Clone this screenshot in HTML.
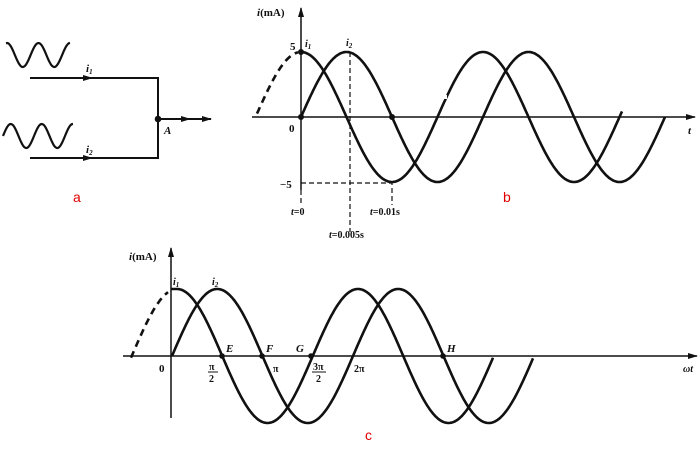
<!DOCTYPE html>
<html><head><meta charset="utf-8"><style>
body{margin:0;background:#fff;width:700px;height:455px;overflow:hidden}
svg{display:block}
text{font-family:"Liberation Serif",serif;font-weight:bold;fill:#111}
</style></head><body>
<svg id="s" width="700" height="455" viewBox="0 0 700 455" fill="none" stroke="#111">
<defs><marker id="ar" markerWidth="10" markerHeight="8" refX="9" refY="4" orient="auto" markerUnits="userSpaceOnUse"><path d="M0,1 L10,4 L0,7 Z" fill="#111" stroke="none"/></marker></defs>
<!-- a -->
<path id="w1" stroke-width="2.2"/><path id="w2" stroke-width="2.2"/>
<path d="M30,78 H158 V158 H30" stroke-width="2"/>
<path d="M30,78 H92" stroke-width="2" marker-end="url(#ar)"/>
<path d="M30,158 H92" stroke-width="2" marker-end="url(#ar)"/>
<path d="M158,119 H211" stroke-width="2" marker-end="url(#ar)"/>
<path d="M158,119 H190" stroke-width="2" marker-end="url(#ar)"/>
<circle cx="158" cy="119" r="2.8" fill="#111"/>
<text x="86" y="72" font-size="11" font-style="italic" stroke="none">i<tspan font-size="7" dy="2">1</tspan></text>
<text x="86" y="153" font-size="11" font-style="italic" stroke="none">i<tspan font-size="7" dy="2">2</tspan></text>
<text x="164" y="134" font-size="11" font-style="italic" stroke="none">A</text>
<text x="73" y="202" stroke="none" style="fill:#e00000;font-family:'Liberation Sans',sans-serif;font-weight:normal;font-size:14px">a</text>
<!-- b -->
<path d="M252,117 H695" stroke-width="1.5" marker-end="url(#ar)"/>
<path d="M301,190 V8" stroke-width="1.5" marker-end="url(#ar)"/>
<path d="M301,183 H392 V205 M350,52 V232 M301,190 V205" stroke-width="1.2" stroke-dasharray="5,3"/>
<path id="b1" stroke-width="2.6"/><path id="b2" stroke-width="2.6"/><path id="bd" stroke-width="2.6" stroke-dasharray="7,5"/>
<rect x="440" y="95" width="7" height="4" fill="#fff" stroke="none"/>
<circle cx="301" cy="52" r="2.5" fill="#111"/><circle cx="301" cy="117" r="2.5" fill="#111"/><circle cx="392" cy="117" r="2.5" fill="#111"/>
<text x="257" y="16" font-size="11" stroke="none"><tspan font-style="italic">i</tspan>(mA)</text>
<text x="290" y="50" font-size="11" stroke="none">5</text>
<text x="305" y="47" font-size="10" font-style="italic" stroke="none">i<tspan font-size="7" dy="2">1</tspan></text>
<text x="346" y="46" font-size="10" font-style="italic" stroke="none">i<tspan font-size="7" dy="2">2</tspan></text>
<text x="289" y="132" font-size="11" stroke="none">0</text>
<text x="280" y="188" font-size="11" stroke="none">−5</text>
<text x="688" y="134" font-size="11" font-style="italic" stroke="none">t</text>
<text x="291" y="215" font-size="10" stroke="none"><tspan font-style="italic">t</tspan>=0</text>
<text x="370" y="215" font-size="10" stroke="none"><tspan font-style="italic">t</tspan>=0.01s</text>
<text x="329" y="238" font-size="10" stroke="none"><tspan font-style="italic">t</tspan>=0.005s</text>
<text x="503" y="202" stroke="none" style="fill:#e00000;font-family:'Liberation Sans',sans-serif;font-weight:normal;font-size:14px">b</text>
<!-- c -->
<path d="M123,356 H697" stroke-width="1.5" marker-end="url(#ar)"/>
<path d="M171,418 V248" stroke-width="1.5" marker-end="url(#ar)"/>
<path id="c1" stroke-width="2.6"/><path id="c2" stroke-width="2.6"/><path id="cd" stroke-width="2.6" stroke-dasharray="7,5"/>
<circle cx="222" cy="356" r="2.3" fill="#111"/><circle cx="262" cy="356" r="2.3" fill="#111"/><circle cx="311" cy="356" r="2.3" fill="#111"/><circle cx="443" cy="356" r="2.3" fill="#111"/>
<text x="129" y="260" font-size="11" stroke="none"><tspan font-style="italic">i</tspan>(mA)</text>
<text x="173" y="285" font-size="10" font-style="italic" stroke="none">i<tspan font-size="7" dy="2">1</tspan></text>
<text x="212" y="285" font-size="10" font-style="italic" stroke="none">i<tspan font-size="7" dy="2">2</tspan></text>
<text x="159" y="372" font-size="11" stroke="none">0</text>
<text x="226" y="352" font-size="11" font-style="italic" stroke="none">E</text>
<text x="266" y="352" font-size="11" font-style="italic" stroke="none">F</text>
<text x="296" y="352" font-size="11" font-style="italic" stroke="none">G</text>
<text x="447" y="352" font-size="11" font-style="italic" stroke="none">H</text>
<text x="209" y="370" font-size="10" stroke="none">π</text><path d="M208,372 H218" stroke-width="1"/><text x="209" y="382" font-size="10" stroke="none">2</text>
<text x="273" y="372" font-size="10" stroke="none">π</text>
<text x="313" y="370" font-size="10" stroke="none">3π</text><path d="M312,372 H326" stroke-width="1"/><text x="316" y="382" font-size="10" stroke="none">2</text>
<text x="354" y="372" font-size="10" stroke="none">2π</text>
<text x="683" y="372" font-size="10" font-style="italic" stroke="none">ωt</text>
<text x="365" y="440" stroke="none" style="fill:#e00000;font-family:'Liberation Sans',sans-serif;font-weight:normal;font-size:14px">c</text>
</svg>
<script>
function P(x0,x1,f){var d="";for(var x=x0;x<=x1+0.01;x+=1){d+=(d?"L":"M")+x.toFixed(1)+","+f(x).toFixed(1);}return d;}
function S(id,d){document.getElementById(id).setAttribute("d",d);}
var Q=45.5,T=4*Q;
S("b1",P(301,622,function(x){return 117-65*Math.cos(2*Math.PI*(x-301)/T);}));
S("b2",P(301,665,function(x){return 117-65*Math.sin(2*Math.PI*(x-301)/T);}));
S("bd",P(257,298,function(x){return 117-65*Math.cos(2*Math.PI*(x-301)/T);}));
var T2=181;
S("c1",P(171,493,function(x){return 356-67*Math.cos(2*Math.PI*(Math.max(x,177)-177)/T2);}));
S("c2",P(172,533,function(x){return 356-67*Math.sin(2*Math.PI*(x-172)/T2);}));
S("cd",P(131,168,function(x){return 356-67*Math.cos(2*Math.PI*(x-177)/T2);}));
S("w1",P(6,70,function(x){return 55-12*Math.cos(2*Math.PI*(x-7)/31.5);}));
S("w2",P(3,73,function(x){return 136-12*Math.sin(2*Math.PI*(x-3)/31);}));
</script>
</body></html>
